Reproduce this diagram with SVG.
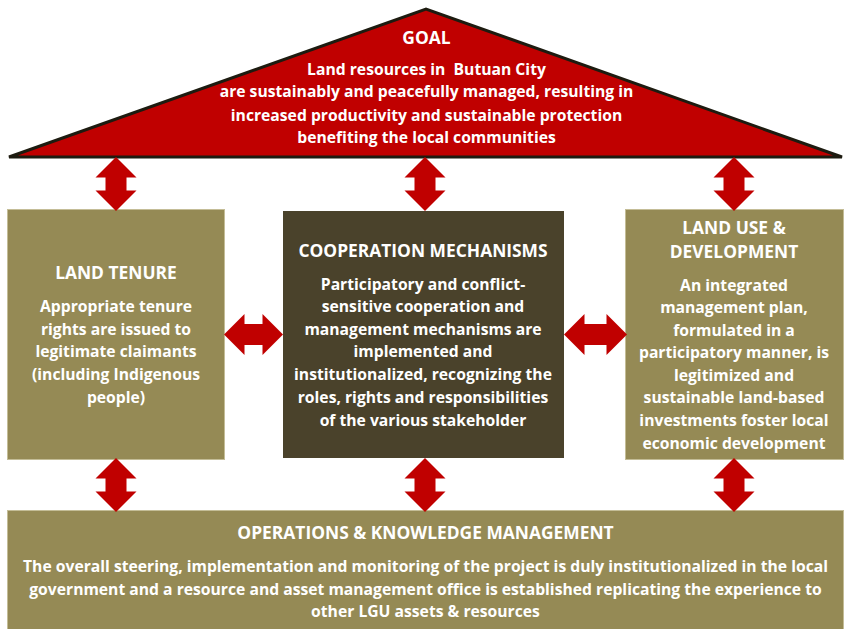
<svg xmlns="http://www.w3.org/2000/svg" width="846" height="629" viewBox="0 0 846 629">
<style>
text{font-family:"Open Sans","Noto Sans","Liberation Sans",sans-serif;font-weight:700;fill:#fff;text-anchor:middle;font-size:15.7px}
.h{font-size:17.4px}
.box{fill:#958a55;stroke:#c4bd97;stroke-width:1}
.dbl{fill:#c00000;stroke:none}
</style>
<defs>
<path id="v" d="M0 0L20.500 20.500H10.500V33.500H20.500L0 54L-20.500 33.500H-10.500V20.500H-20.500Z"/>
<path id="h" d="M0 0L20.500 -20.500V-10.500H38.500V-20.500L59 0L38.500 20.500V10.500H20.500V20.500Z"/>
<path id="h2" d="M0 0L20.500 -20.500V-10.500H42.500V-20.500L63 0L42.500 20.500V10.500H20.500V20.500Z"/>
</defs>
<rect width="846" height="629" fill="#fff"/>
<g id="goal">
<path d="M9 157L426 9L842 157Z" fill="#c00000" stroke="#1d1b10" stroke-width="3" stroke-linejoin="miter"/>
<text class="h" x="426.500" y="44">GOAL</text>
<text x="426.500" y="75">Land resources in&#160; Butuan City</text>
<text x="426.500" y="97">are sustainably and peacefully managed, resulting in</text>
<text x="426.500" y="121">increased productivity and sustainable protection</text>
<text x="426.500" y="143">benefiting the local communities</text>
</g>
<g id="land-tenure">
<rect class="box" x="7.500" y="209.500" width="217" height="250"/>
<text class="h" x="116" y="279">LAND TENURE</text>
<text x="116" y="312">Appropriate tenure</text>
<text x="116" y="335">rights are issued to</text>
<text x="116" y="357">legitimate claimants</text>
<text x="116" y="380">(including Indigenous</text>
<text x="116" y="403">people)</text>
</g>
<g id="cooperation">
<rect x="283" y="211" width="281" height="247" fill="#4a422b"/>
<text class="h" x="423" y="257">COOPERATION MECHANISMS</text>
<text x="423" y="290">Participatory and conflict-</text>
<text x="423" y="312">sensitive cooperation and</text>
<text x="423" y="335">management mechanisms are</text>
<text x="423" y="357">implemented and</text>
<text x="423" y="380">institutionalized, recognizing the</text>
<text x="423" y="403">roles, rights and responsibilities</text>
<text x="423" y="426">of the various stakeholder</text>
</g>
<g id="land-use">
<rect class="box" x="625.500" y="209.500" width="218" height="250"/>
<text class="h" x="734" y="234">LAND USE &amp;</text>
<text class="h" x="734" y="258">DEVELOPMENT</text>
<text x="734" y="291">An integrated</text>
<text x="734" y="313">management plan,</text>
<text x="734" y="336">formulated in a</text>
<text x="734" y="358">participatory manner, is</text>
<text x="734" y="381">legitimized and</text>
<text x="734" y="403">sustainable land-based</text>
<text x="734" y="426">investments foster local</text>
<text x="734" y="449">economic development</text>
</g>
<g id="operations">
<rect class="box" x="7.500" y="510.500" width="836" height="125"/>
<text class="h" x="425.500" y="539">OPERATIONS &amp; KNOWLEDGE MANAGEMENT</text>
<text x="425.500" y="572">The overall steering, implementation and monitoring of the project is duly institutionalized in the local</text>
<text x="425.500" y="595">government and a resource and asset management office is established replicating the experience to</text>
<text x="425.500" y="617">other LGU assets &amp; resources</text>
</g>
<g id="connectors" class="dbl">
<use href="#v" x="116" y="157"/>
<use href="#v" x="425" y="157"/>
<use href="#v" x="734" y="157"/>
<use href="#v" x="116" y="458"/>
<use href="#v" x="425" y="458"/>
<use href="#v" x="734" y="458"/>
<use href="#h" x="224" y="334.500"/>
<use href="#h2" x="564" y="334.500"/>
</g>
</svg>
